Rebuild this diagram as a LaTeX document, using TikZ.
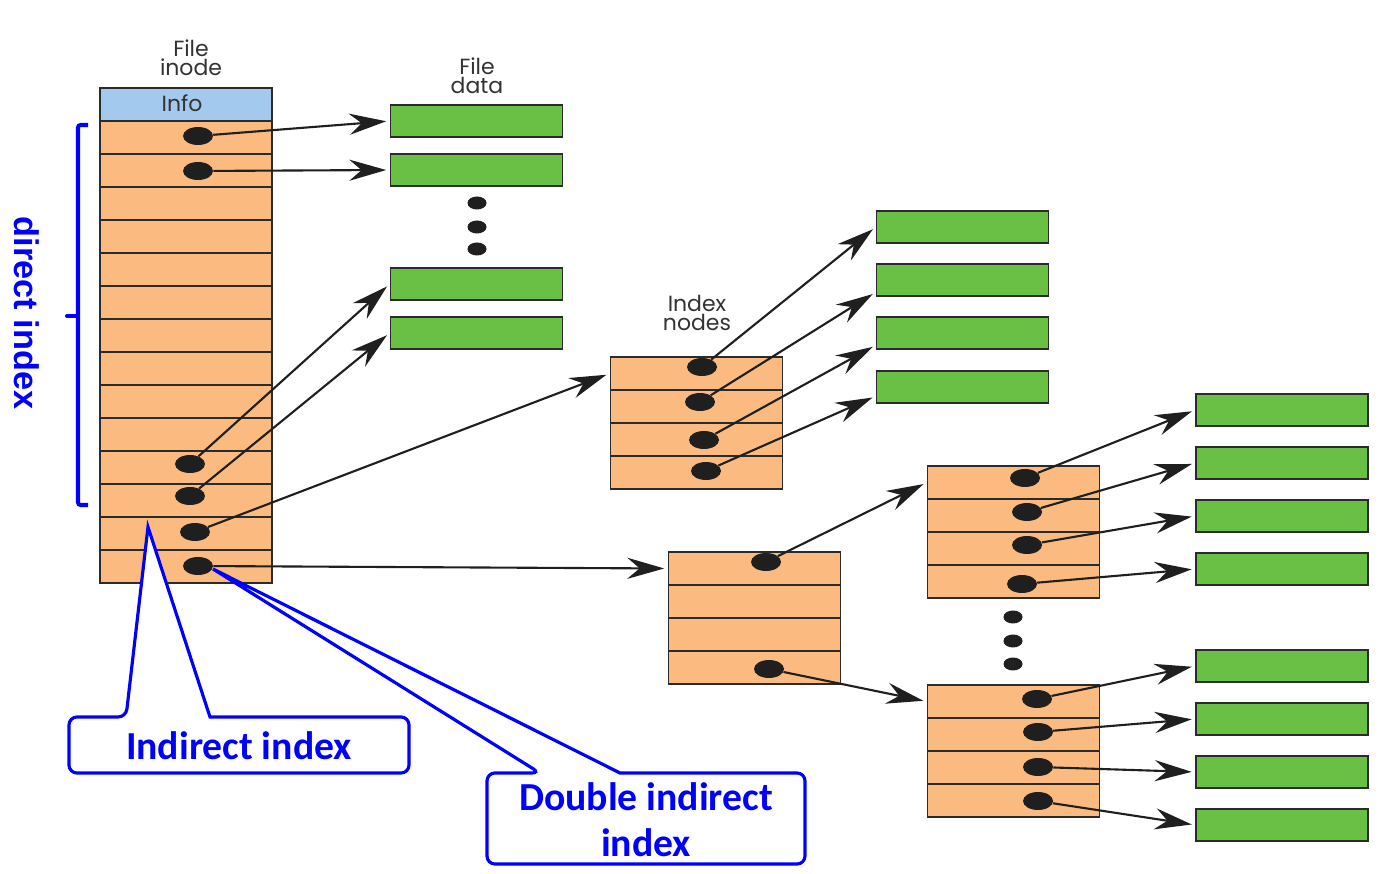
\documentclass[tikz,border=0pt]{standalone}
\usepackage{fontspec}
\usepackage{xcolor}
\usepackage{tikz}
\usetikzlibrary{shapes.geometric,arrows.meta}
\newfontfamily\labelfont{Poppins}
\newfontfamily\calloutfont{Carlito}
\newfontfamily\bracefont{Liberation Sans}
\definecolor{rowfill}{HTML}{FBBB80}
\definecolor{infofill}{HTML}{A3C9EE}
\definecolor{datafill}{HTML}{6ABF45}
\definecolor{edge}{HTML}{2B2B2B}
\definecolor{note}{HTML}{0000FF}

\begin{document}
\begin{tikzpicture}[x=0.02cm,y=-0.02cm,%
% common options for table rows:
row/.style = {draw=edge, fill=rowfill, line width=0.9pt, minimum width=3.44cm,
            minimum height=0.66cm, inner sep=0},
% common options for data blocks:
datablk/.style = {draw=edge, fill=datafill, line width=0.9pt, minimum width=3.44cm,
            minimum height=0.64cm, inner sep=0},
% common options for the pointer dots:
ball/.style = {ellipse, fill=black!88, minimum width=0.6cm, minimum height=0.36cm, inner sep=0},
gap/.style = {ellipse, fill=black!88, minimum width=0.38cm, minimum height=0.26cm, inner sep=0},
arr/.style = {-{Stealth[length=21pt,width=12pt,inset=7pt]}, line width=1.2pt, draw=black!88, shorten >=2pt},
title/.style = {align=center, font=\labelfont\fontsize{12.5pt}{11pt}\selectfont, text=black!80, inner sep=0},
callout/.style = {draw=note, line width=1.8pt, fill=white},
calltext/.style = {align=center, text=note, font=\calloutfont\bfseries\fontsize{22.6pt}{26pt}\selectfont}]
\useasboundingbox (0,0) rectangle (1390,874);
% file inode
\node[title] (T0) at (191,58) {File\\inode};
\node[row,fill=infofill] (N0) at (186,104.5) {};
\node[title] (T9) at (182,103) {Info};
\node[row] (N1) at (186,137.5) {};
\node[row] (N2) at (186,170.5) {};
\node[row] (N3) at (186,203.5) {};
\node[row] (N4) at (186,236.5) {};
\node[row] (N5) at (186,269.5) {};
\node[row] (N6) at (186,302.5) {};
\node[row] (N7) at (186,335.5) {};
\node[row] (N8) at (186,368.5) {};
\node[row] (N9) at (186,401.5) {};
\node[row] (N10) at (186,434.5) {};
\node[row] (N11) at (186,467.5) {};
\node[row] (N12) at (186,500.5) {};
\node[row] (N13) at (186,533.5) {};
\node[row] (N14) at (186,566.5) {};
\node[ball] (n1) at (198,136) {};
\node[ball] (n2) at (198,171) {};
\node[ball] (n11) at (190,464) {};
\node[ball] (n12) at (190,496) {};
\node[ball] (n13) at (195,532) {};
\node[ball] (n14) at (198,566) {};
% file data
\node[title] (T1) at (477,76) {File\\data};
\node[datablk] (D1) at (476.5,121) {};
\node[datablk] (D2) at (476.5,170) {};
\node[gap] (s1) at (477,203) {};
\node[gap] (s2) at (477,227) {};
\node[gap] (s3) at (477,249) {};
\node[datablk] (D3) at (476.5,284) {};
\node[datablk] (D4) at (476.5,333) {};
% single indirect
\node[title] (T2) at (697,313) {Index\\nodes};
\node[row] (I1) at (696.5,373.5) {};
\node[row] (I2) at (696.5,406.5) {};
\node[row] (I3) at (696.5,439.5) {};
\node[row] (I4) at (696.5,472.5) {};
\node[ball] (i1) at (702,367) {};
\node[ball] (i2) at (700,402) {};
\node[ball] (i3) at (704,440) {};
\node[ball] (i4) at (706,471) {};
\node[datablk] (E1) at (962.5,227) {};
\node[datablk] (E2) at (962.5,280) {};
\node[datablk] (E3) at (962.5,333) {};
\node[datablk] (E4) at (962.5,387) {};
% double indirect
\node[row] (L1) at (754.5,568.5) {};
\node[row] (L2) at (754.5,601.5) {};
\node[row] (L3) at (754.5,634.5) {};
\node[row] (L4) at (754.5,667.5) {};
\node[ball] (l1) at (766,562) {};
\node[ball] (l4) at (769,669) {};
\node[row] (A1) at (1013.5,482.5) {};
\node[row] (A2) at (1013.5,515.5) {};
\node[row] (A3) at (1013.5,548.5) {};
\node[row] (A4) at (1013.5,581.5) {};
\node[ball] (a1) at (1025,478) {};
\node[ball] (a2) at (1027,512) {};
\node[ball] (a3) at (1027,545) {};
\node[ball] (a4) at (1022,584) {};
\node[gap] (s4) at (1013,617) {};
\node[gap] (s5) at (1013,641) {};
\node[gap] (s6) at (1013,664) {};
\node[row] (B1) at (1013.5,701.5) {};
\node[row] (B2) at (1013.5,734.5) {};
\node[row] (B3) at (1013.5,767.5) {};
\node[row] (B4) at (1013.5,800.5) {};
\node[ball] (b1) at (1037,699) {};
\node[ball] (b2) at (1038,732) {};
\node[ball] (b3) at (1038,767) {};
\node[ball] (b4) at (1038,801) {};
\node[datablk] (F1) at (1282,410) {};
\node[datablk] (F2) at (1282,463) {};
\node[datablk] (F3) at (1282,516) {};
\node[datablk] (F4) at (1282,569) {};
\node[datablk] (G1) at (1282,666) {};
\node[datablk] (G2) at (1282,719) {};
\node[datablk] (G3) at (1282,772) {};
\node[datablk] (G4) at (1282,825) {};
% pointers
\draw[arr] (n1) to (D1.west);
\draw[arr] (n2) to (D2.west);
\draw[arr] (n11) to (D3.west);
\draw[arr] (n12) to (D4.west);
\draw[arr] (n13) to (I1.west);
\draw[arr] (n14) to (L1.west);
\draw[arr] (i1) to (E1.west);
\draw[arr] (i2) to (E2.188);
\draw[arr] (i3) to (E3.188);
\draw[arr] (i4) to (E4.186);
\draw[arr] (l1) to (A1.west);
\draw[arr] (l4) to (B1.west);
\draw[arr] (a1) to (F1.west);
\draw[arr] (a2) to (F2.west);
\draw[arr] (a3) to (F3.west);
\draw[arr] (a4) to (F4.west);
\draw[arr] (b1) to (G1.west);
\draw[arr] (b2) to (G2.west);
\draw[arr] (b3) to (G3.west);
\draw[arr] (b4) to (G4.west);
% annotations
\draw[draw=note, line width=2.3pt, rounded corners=1.5pt] (88,125) -- (78,125) -- (78,505) -- (88,505);
\draw[draw=note, line width=2.3pt, line cap=round] (78,316) -- (67,316);
\node[rotate=-90, text=note, font=\bracefont\bfseries\fontsize{19.5pt}{22pt}\selectfont] (C0) at (27,313) {direct index};
\draw[callout] (300,717) [rounded corners=4.5pt] -- (409,717) -- (409,773) -- (69,773) -- (69,717) -- (126,717)
      [sharp corners] -- (148,527) -- (210,717) -- cycle;
\node[calltext] (C1) at (239,746) {Indirect index};
\draw[callout] (700,773) [rounded corners=4.5pt] -- (805,773) -- (805,864) -- (487,864) -- (487,773) -- (540,773)
      [sharp corners] -- (213,569) -- (620,773) -- cycle;
\node[calltext] (C2) at (646,820) {Double indirect\\index};
\end{tikzpicture}
\end{document}
